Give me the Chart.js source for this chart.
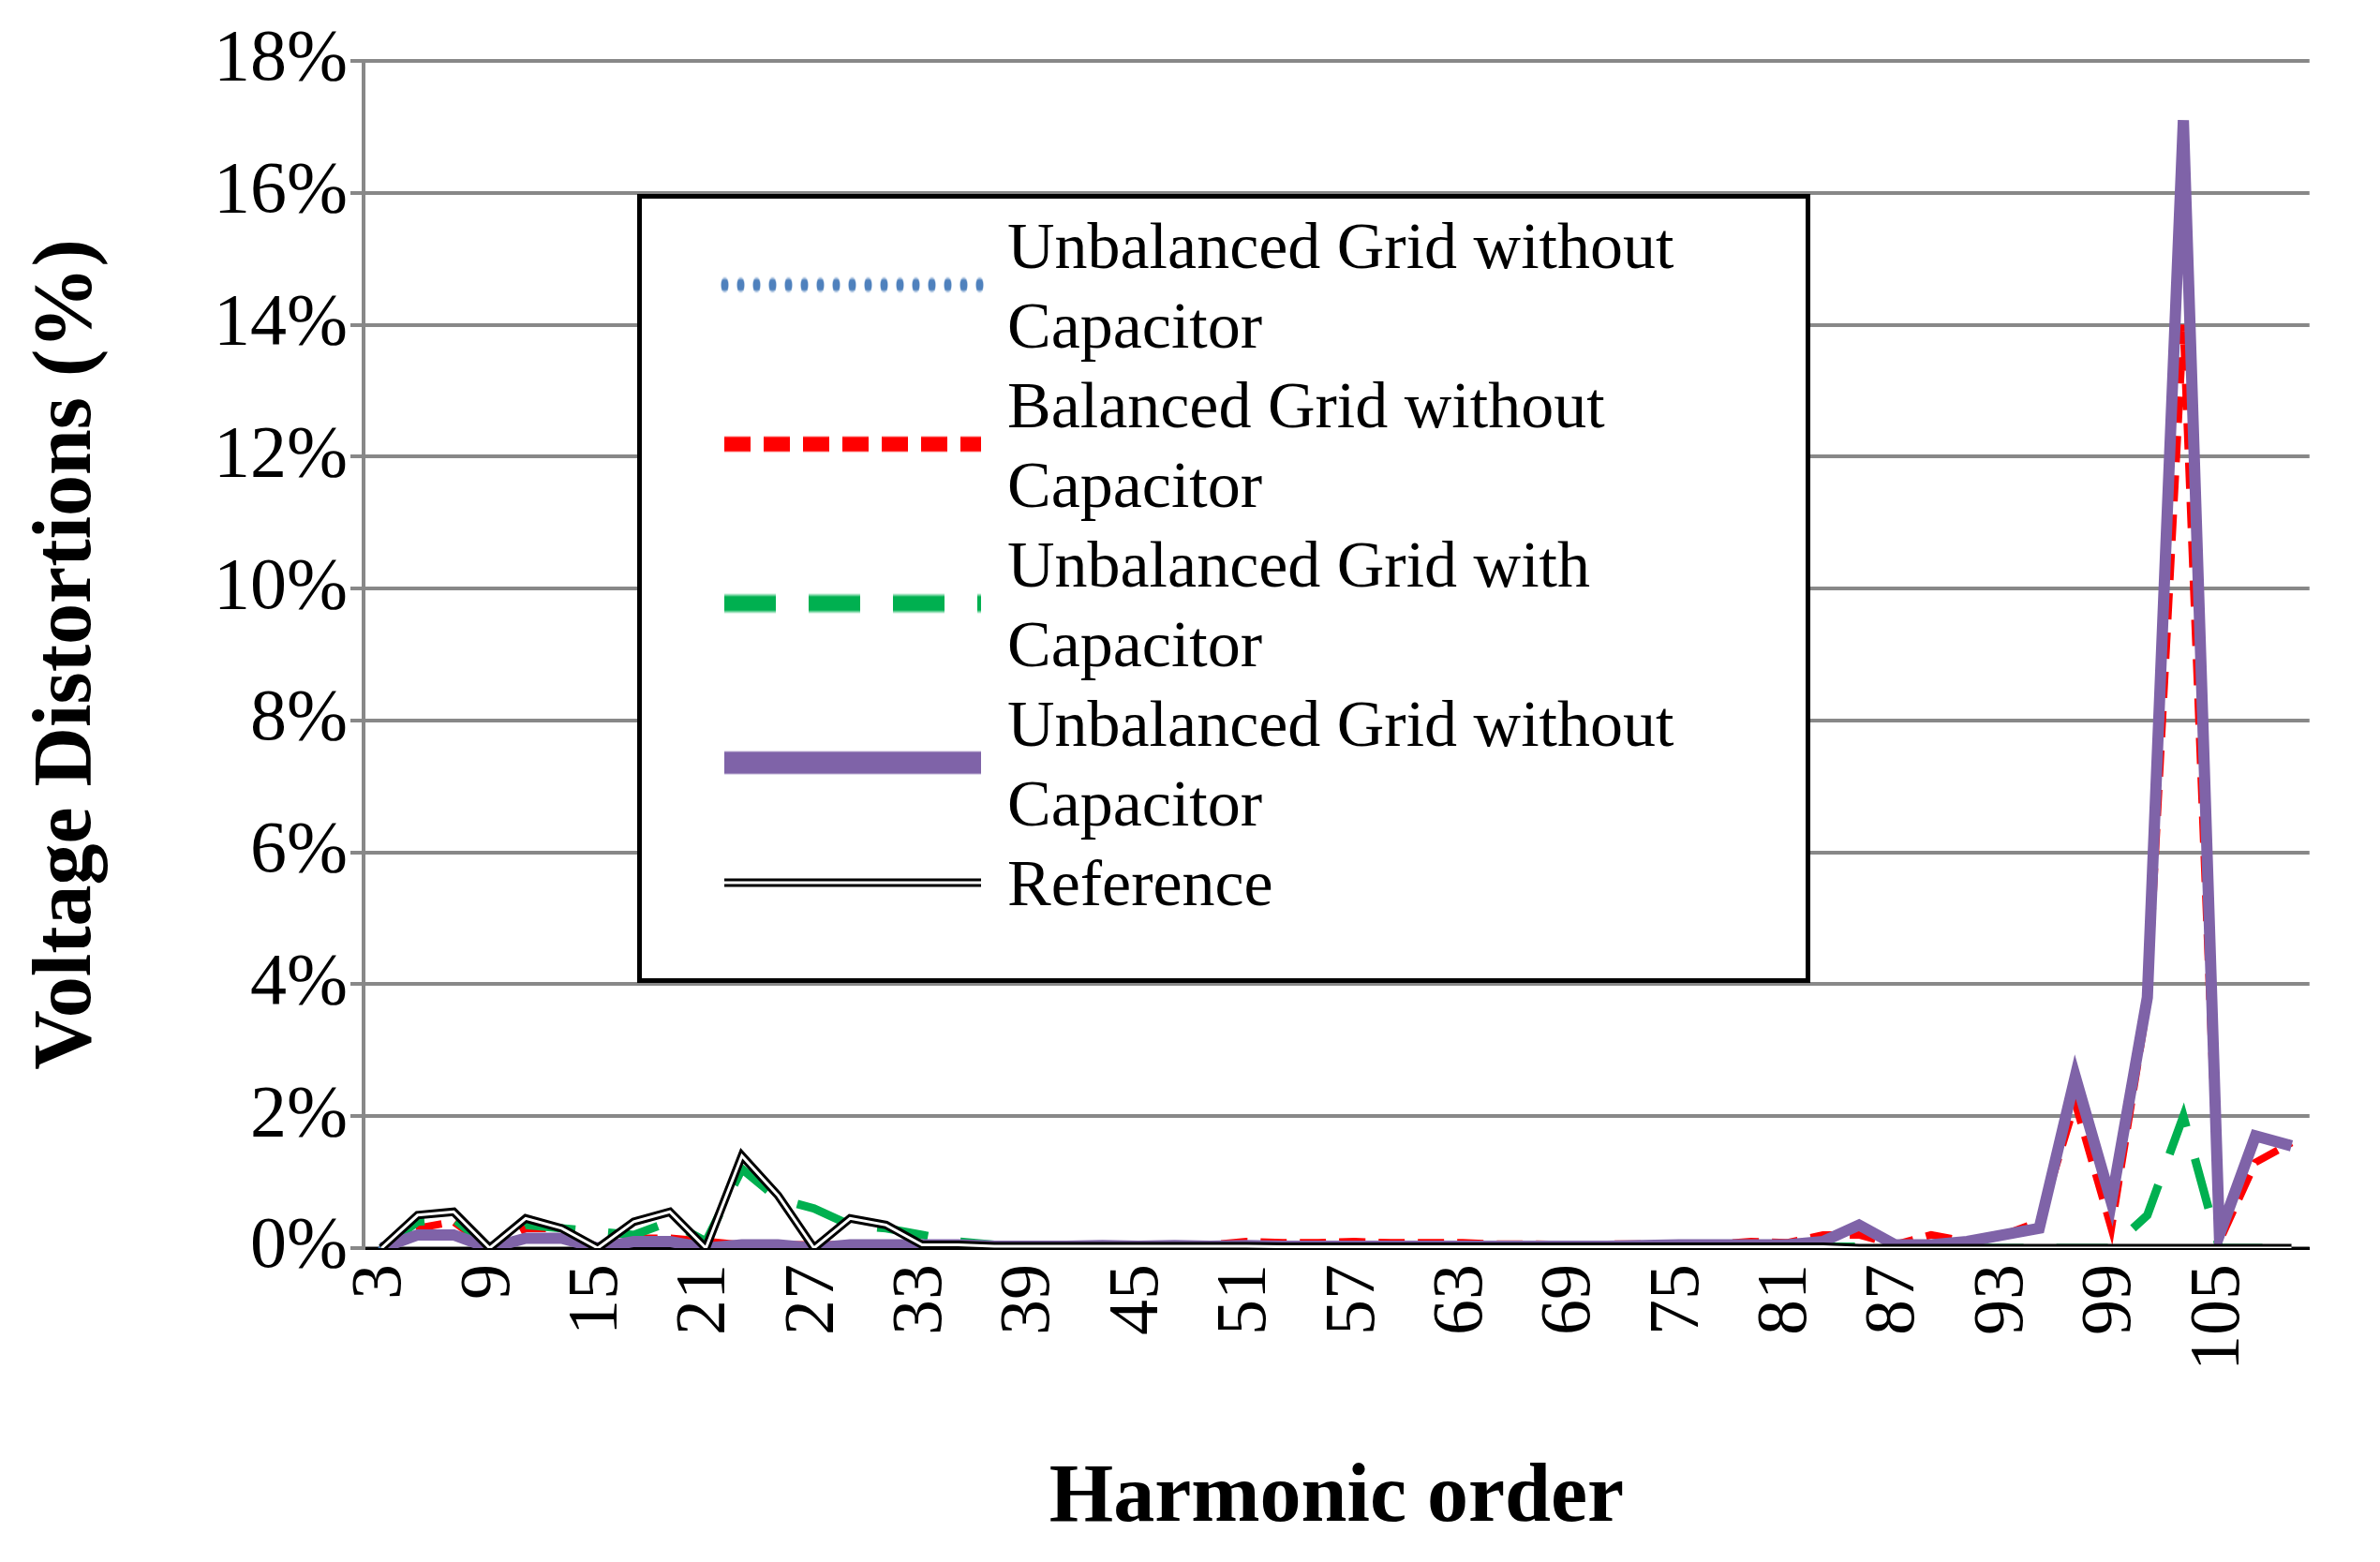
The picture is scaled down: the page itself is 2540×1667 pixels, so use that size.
<!DOCTYPE html>
<html>
<head>
<meta charset="utf-8">
<script src="https://cdn.jsdelivr.net/npm/chart.js@4/dist/chart.umd.min.js"></script>
<style>
  body { margin: 0; background: #fff; }
  #wrap { position: relative; width: 2540px; height: 1667px; }
  #legend {
    position: absolute; left: 680px; top: 207px; width: 1252px; height: 842px;
    border: 5px solid #000; background: #fff; box-sizing: border-box;
    font-family: "Liberation Serif", serif; font-size: 70px; line-height: 85px;
    padding-top: 8px;
  }
  .item { display: flex; }
  .item canvas { flex: none; margin: 0 20px 0 80px; }
  .item span { width: 820px; }
</style>
</head>
<body>
<div id="wrap">
  <canvas id="chart" width="2540" height="1667"></canvas>
  <div id="legend"></div>
</div>
<script>
const harmonics = [];
for (let h = 3; h <= 109; h += 2) harmonics.push(String(h));

// values in %, harmonics 3..109
const unbalNoCap = [0,0.2,0.2,0,0.15,0.15,0,0.1,0.1,0,0.05,0.05,0,0.05,0.05,0.05,0.05,0.03,0.03,0.03,0.04,0.03,0.04,0.03,0.04,0.03,0.03,0.03,0.03,0.03,0.03,0.03,0.03,0.03,0.03,0.04,0.05,0.05,0.05,0.05,0.1,0.35,0.05,0.05,0.1,0.2,0.3,2.6,0.7,3.8,17.1,0.2,1.7,1.55];
const balNoCap =   [0,0.3,0.4,0,0.3,0.3,0,0.15,0.15,0.1,0.05,0.05,0.05,0.05,0.05,0.05,0.05,0.05,0.05,0.05,0.05,0.05,0.05,0.05,0.1,0.08,0.08,0.1,0.08,0.08,0.08,0.06,0.06,0.05,0.06,0.06,0.05,0.06,0.1,0.08,0.2,0.2,0.05,0.2,0.1,0.2,0.4,2.2,0.3,3.7,14,0.1,1.3,1.6];
const unbalCap =   [0,0.4,0.45,0,0.35,0.3,0.25,0.2,0.4,0.1,1.2,0.75,0.6,0.35,0.3,0.2,0.1,0.05,0.03,0.02,0.02,0.02,0.02,0.02,0.02,0.02,0.02,0.02,0.02,0.02,0.02,0.02,0.02,0.02,0.02,0.02,0.02,0.02,0.02,0.02,0.02,0.02,0,0,0,0,0,0,0,0.5,2.0,0,0,0];
const reference =  [0,0.5,0.55,0,0.45,0.3,0,0.4,0.55,0,1.4,0.8,0,0.45,0.35,0.05,0.05,0.03,0.03,0.03,0.03,0.03,0.03,0.03,0.03,0.02,0.02,0.02,0.02,0.02,0.02,0.02,0.02,0.02,0.02,0.02,0.02,0.02,0.02,0.02,0.02,0,0,0,0,0,0,0,0,0,0,0,0,0];

const legendLabels = [
  'Unbalanced Grid without Capacitor',
  'Balanced Grid without Capacitor',
  'Unbalanced Grid with Capacitor',
  'Unbalanced Grid without Capacitor',
  'Reference'
];

const datasets = [
  { data: unbalNoCap, borderColor: '#4f81bd', borderWidth: 7, borderDash: [1, 16], borderCapStyle: 'round', order: 5 },
  { data: balNoCap, borderColor: '#ff0000', borderWidth: 8, borderDash: [28, 14], order: 4 },
  { data: unbalCap, borderColor: '#00b050', borderWidth: 9, borderDash: [55, 35], order: 3 },
  { data: unbalNoCap, borderColor: '#7f63a8', borderWidth: 12, order: 2 },
  { data: reference, borderColor: '#000', borderWidth: 9, order: 1 },
  { data: reference, borderColor: '#fff', borderWidth: 3, order: 0 }
];
datasets.forEach(d => { d.pointRadius = 0; d.fill = false; d.tension = 0; });

const serif = '"Liberation Serif", serif';

new Chart(document.getElementById('chart'), {
  type: 'line',
  data: { labels: harmonics, datasets: datasets },
  options: {
    responsive: false,
    animation: false,
    layout: { padding: { left: 20, right: 30, top: 65, bottom: 10 } },
    plugins: { legend: { display: false }, tooltip: { enabled: false } },
    scales: {
      x: {
        offset: true,
        grid: { display: false, offset: true, drawTicks: true, tickLength: 14, tickWidth: 4, color: '#888' },
        border: { color: '#000', width: 3 },
        ticks: {
          autoSkip: false, minRotation: 90, maxRotation: 90,
          font: { family: serif, size: 76 }, color: '#000',
          callback: (v, i) => (i % 3 === 0 ? harmonics[i] : '')
        },
        title: { display: true, text: 'Harmonic order', font: { family: serif, size: 88, weight: 'bold' }, color: '#000', padding: { top: 20 } },
        afterFit: s => { s.height = 1667 - 1332 - 10; }
      },
      y: {
        min: 0, max: 18,
        grid: { color: '#888', lineWidth: 4, tickLength: 14 },
        border: { color: '#888', width: 4 },
        ticks: { stepSize: 2, font: { family: serif, size: 78 }, color: '#000', callback: v => v + '%' },
        title: { display: true, text: 'Voltage Distortions (%)', font: { family: serif, size: 88, weight: 'bold' }, color: '#000', padding: 0 },
        afterFit: s => { s.width = 388 - 20; }
      }
    }
  }
});

// legend
const legend = document.getElementById('legend');
const legendSets = [0, 1, 2, 3, 4];
legendSets.forEach((di, k) => {
  const d = datasets[di];
  const row = document.createElement('div');
  row.className = 'item';
  const c = document.createElement('canvas');
  c.width = 290; c.height = 85;
  const ctx = c.getContext('2d');
  const drawLine = (color, w, dash, cap) => {
    ctx.strokeStyle = color; ctx.lineWidth = w; ctx.setLineDash(dash || []);
    ctx.lineCap = cap || 'butt';
    ctx.beginPath(); ctx.moveTo(8, 42); ctx.lineTo(282, 42); ctx.stroke();
  };
  drawLine(d.borderColor, d.borderWidth, d.borderDash, d.borderCapStyle);
  if (di === 4) drawLine('#fff', 3);
  const span = document.createElement('span');
  span.textContent = legendLabels[k];
  row.appendChild(c);
  row.appendChild(span);
  legend.appendChild(row);
});
</script>
</body>
</html>
